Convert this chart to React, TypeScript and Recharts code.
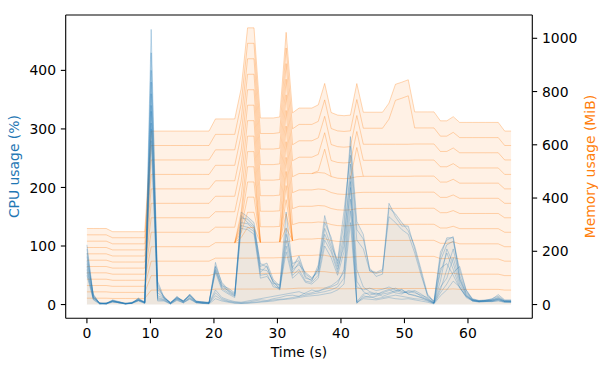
import React from 'react';
import { ComposedChart, Area, Line, XAxis, YAxis, ReferenceLine } from 'recharts';

const FONT = '"DejaVu Sans", sans-serif';

// sample times (s)
const times = [
  0, 1.01, 2.02, 3.04, 4.05, 5.06, 6.07, 7.08, 8.1, 9.11,
  10.12, 11.13, 12.14, 13.16, 14.17, 15.18, 16.19, 17.2, 18.22, 19.23,
  20.24, 21.25, 22.26, 23.28, 24.29, 25.3, 26.31, 27.32, 28.34, 29.35,
  30.36, 31.37, 32.38, 33.4, 34.41, 35.42, 36.43, 37.44, 38.46, 39.47,
  40.48, 41.49, 42.5, 43.52, 44.53, 45.54, 46.55, 47.56, 48.58, 49.59,
  50.6, 51.61, 52.62, 53.64, 54.65, 55.66, 56.67, 57.68, 58.7, 59.71,
  60.72, 61.73, 62.74, 63.76, 64.77, 65.78, 66.79,
];

// CPU usage (%) per process
const cpu1 = [102, 15, 2, 2, 7, 4, 1, 3, 9, 3, 470, 20, 12, 2, 14, 5, 18, 6, 4, 3, 72, 35, 22, 15, 158, 150, 140, 65, 71, 43, 31, 158, 63, 83, 48, 40, 68, 152, 108, 65, 120, 287, 142, 120, 57, 53, 57, 173, 150, 134, 134, 95, 55, 14, 6, 82, 114, 114, 43, 20, 8, 7, 8, 9, 17, 8, 8];
const cpu2 = [88, 12, 3, 1, 6, 5, 2, 2, 11, 4, 430, 35, 10, 4, 10, 7, 14, 4, 3, 2, 66, 38, 25, 18, 148, 146, 134, 70, 64, 38, 28, 120, 70, 75, 52, 44, 60, 140, 115, 70, 140, 270, 128, 112, 62, 48, 52, 165, 155, 140, 126, 100, 60, 18, 5, 90, 110, 116, 50, 22, 9, 6, 7, 10, 14, 7, 6];
const cpu3 = [75, 18, 1, 3, 5, 3, 2, 4, 7, 5, 400, 25, 14, 3, 12, 6, 16, 5, 5, 4, 60, 32, 28, 20, 140, 138, 128, 60, 58, 40, 26, 110, 60, 68, 55, 46, 55, 130, 100, 75, 160, 255, 110, 95, 58, 55, 60, 150, 140, 128, 120, 88, 50, 16, 4, 75, 102, 108, 58, 25, 10, 7, 6, 8, 12, 6, 7];
const cpu4 = [95, 14, 2, 2, 8, 5, 1, 3, 10, 3, 360, 40, 12, 3, 13, 6, 17, 6, 4, 3, 64, 30, 24, 16, 152, 140, 132, 55, 66, 36, 34, 130, 55, 72, 45, 42, 62, 120, 95, 60, 100, 240, 60, 30, 22, 18, 20, 24, 28, 22, 20, 24, 18, 10, 3, 40, 95, 70, 35, 15, 8, 6, 7, 8, 11, 6, 5];
const cpu5 = [60, 10, 3, 2, 6, 4, 2, 2, 8, 4, 330, 30, 13, 2, 11, 5, 15, 5, 3, 3, 58, 28, 20, 14, 135, 132, 125, 50, 52, 30, 28, 100, 50, 60, 40, 38, 50, 110, 90, 55, 110, 220, 40, 22, 16, 20, 14, 18, 22, 25, 18, 15, 12, 8, 2, 55, 88, 60, 30, 12, 6, 5, 6, 7, 9, 5, 5];
const cpu6 = [82, 16, 2, 1, 7, 3, 1, 3, 9, 3, 300, 15, 11, 3, 12, 5, 16, 5, 4, 3, 55, 25, 18, 12, 130, 128, 120, 45, 48, 34, 25, 90, 45, 55, 38, 35, 45, 100, 80, 50, 90, 200, 30, 25, 28, 24, 26, 30, 25, 20, 22, 20, 16, 12, 3, 62, 70, 50, 28, 14, 7, 6, 6, 7, 10, 6, 6];
const cpu7 = [70, 12, 2, 2, 6, 4, 2, 3, 8, 3, 380, 10, 8, 2, 9, 4, 12, 4, 3, 2, 25, 12, 8, 5, 4, 6, 8, 10, 12, 14, 16, 18, 20, 22, 18, 20, 24, 26, 30, 35, 60, 210, 5, 18, 20, 16, 22, 26, 20, 18, 24, 22, 14, 9, 3, 30, 45, 80, 40, 16, 7, 5, 6, 6, 8, 5, 5];
const cpu8 = [55, 9, 1, 1, 5, 3, 2, 2, 7, 2, 340, 12, 9, 2, 10, 4, 11, 4, 2, 2, 20, 10, 6, 4, 3, 4, 6, 8, 7, 10, 12, 15, 16, 14, 20, 25, 22, 28, 32, 40, 55, 180, 2, 15, 12, 14, 18, 20, 24, 26, 18, 16, 12, 7, 2, 25, 60, 95, 45, 18, 6, 5, 5, 6, 9, 5, 4];
const cpu9 = [65, 11, 2, 2, 5, 3, 1, 2, 7, 3, 280, 8, 7, 1, 8, 3, 10, 3, 2, 2, 15, 8, 5, 3, 2, 3, 4, 5, 6, 8, 9, 10, 12, 14, 16, 18, 20, 22, 25, 30, 45, 160, 4, 12, 14, 10, 12, 14, 16, 14, 12, 10, 9, 6, 2, 20, 35, 55, 65, 25, 8, 5, 6, 5, 7, 4, 4];
const cpu10 = [50, 8, 1, 1, 4, 3, 1, 2, 6, 2, 310, 6, 6, 1, 7, 3, 9, 3, 2, 1, 10, 6, 4, 2, 2, 2, 3, 4, 5, 6, 8, 9, 10, 12, 14, 15, 16, 18, 20, 25, 35, 140, 3, 10, 9, 8, 10, 12, 10, 9, 10, 8, 6, 4, 1, 15, 25, 40, 30, 14, 6, 4, 5, 5, 6, 4, 4];

// Memory usage (MiB) per process (stacked)
const memWorker = [23.8, 23.8, 23.8, 23.8, 22.8, 22.8, 22.8, 22.8, 22.8, 22.8, 54.3, 54.3, 54.3, 54.3, 54.3, 54.3, 54.3, 54.3, 54.3, 54.3, 58.1, 58.1, 58.1, 58.1, 58.1, 58.1, 58.1, 58.4, 58.4, 58.4, 58.7, 58.7, 60.0, 61.5, 61.5, 61.5, 62.0, 61.7, 60.1, 59.3, 59.1, 59.3, 60.0, 60.2, 60.2, 60.2, 60.2, 60.2, 60.2, 60.2, 60.2, 60.3, 60.3, 60.3, 60.3, 57.5, 57.5, 58.8, 57.0, 57.0, 57.0, 57.0, 57.0, 57.0, 57.0, 54.3, 54.3];
const memMain = [23.8, 23.8, 23.8, 23.8, 22.8, 22.8, 22.8, 22.8, 22.8, 22.8, 54.3, 54.3, 54.3, 54.3, 54.3, 54.3, 54.3, 54.3, 54.3, 54.3, 58.1, 58.1, 58.1, 58.1, 58.1, 58.1, 58.1, 58.4, 58.4, 58.4, 58.7, 58.7, 60.0, 61.5, 61.5, 61.5, 62.0, 61.7, 60.1, 59.3, 59.1, 59.3, 60.0, 60.2, 60.2, 60.2, 60.2, 94.2, 165.0, 173.0, 182.0, 60.3, 60.3, 60.3, 60.3, 57.5, 57.5, 58.8, 57.0, 57.0, 57.0, 57.0, 57.0, 57.0, 57.0, 54.3, 54.3];
const memSpawn = [0, 0, 0, 0, 0, 0, 0, 0, 0, 0, 0, 0, 0, 0, 0, 0, 0, 0, 0, 0, 0, 0, 0, 0, 19, 57, 57, 0, 0, 0, 0, 53, 0, 0, 0, 0, 0, 0, 0, 0, 0, 0, 0, 0, 0, 0, 0, 0, 0, 0, 0, 0, 0, 0, 0, 0, 0, 0, 0, 0, 0, 0, 0, 0, 0, 0, 0];
const memSpike = [0, 0, 0, 0, 0, 0, 0, 0, 0, 0, 0, 0, 0, 0, 0, 0, 0, 0, 0, 0, 0, 0, 0, 0, 0, 0, 0, 0, 0, 0, 0, 0, 0, 0, 0, 0, 6, 90, 0, 0, 0, 0, 110, 0, 0, 0, 0, 0, 0, 0, 0, 0, 0, 0, 0, 0, 0, 0, 0, 0, 0, 0, 0, 0, 0, 0, 0];

const timeTicks = [0, 10, 20, 30, 40, 50, 60];
const cpuTicks = [0, 100, 200, 300, 400];
const memTicks = [0, 200, 400, 600, 800, 1000];

const cpuSeries = [cpu1, cpu2, cpu3, cpu4, cpu5, cpu6, cpu7, cpu8, cpu9, cpu10];
// bottom -> top stacking order; transient processes only exist for short periods
const memLayers = [
  { src: memWorker, transient: false },
  { src: memWorker, transient: false },
  { src: memWorker, transient: false },
  { src: memWorker, transient: false },
  { src: memSpawn, transient: true },
  { src: memSpawn, transient: true },
  { src: memSpawn, transient: true },
  { src: memSpawn, transient: true },
  { src: memSpawn, transient: true },
  { src: memSpawn, transient: true },
  { src: memWorker, transient: false },
  { src: memWorker, transient: false },
  { src: memWorker, transient: false },
  { src: memWorker, transient: false },
  { src: memSpike, transient: true },
  { src: memWorker, transient: false },
  { src: memWorker, transient: false },
  { src: memMain, transient: false },
  { src: memWorker, transient: false },
];

const data = times.map((t, i) => {
  const row: Record<string, number | null> = { t };
  cpuSeries.forEach((s, k) => { row['c' + k] = s[i]; });
  row.cmax = Math.max(...cpuSeries.map((s) => s[i]));
  let cum = 0;
  memLayers.forEach((l, k) => {
    row['m' + k] = l.src[i];
    cum += l.src[i];
    if (l.transient) {
      const alive = l.src[i] > 0 || (i > 0 && l.src[i - 1] > 0) || (i < l.src.length - 1 && l.src[i + 1] > 0);
      row['top' + k] = alive ? cum : null;
    }
  });
  return row;
});

const PLOT_BOTTOM = 318.3;
const PLOT_LEFT = 65.7;
const PLOT_RIGHT = 532.3;
const TICK = 4.86;
const FS = 13.9;

const XTick = (p: any) => (
  <text x={p.x} y={PLOT_BOTTOM + TICK * 2 + 10.1} textAnchor="middle" fontSize={FS} fontFamily={FONT} fill="#000">
    {p.payload.value}
  </text>
);
const LTick = (p: any) => (
  <text x={PLOT_LEFT - TICK * 2} y={p.y + 5.05} textAnchor="end" fontSize={FS} fontFamily={FONT} fill="#000">
    {p.payload.value}
  </text>
);
const RTick = (p: any) => (
  <text x={PLOT_RIGHT + TICK * 2} y={p.y + 5.05} textAnchor="start" fontSize={FS} fontFamily={FONT} fill="#000">
    {p.payload.value}
  </text>
);

const axisStroke = { stroke: '#000', strokeWidth: 1.1 };
const MEM_STROKE_OPACITY = 0.3;

export default function App() {
  return (
    <div style={{ position: 'absolute', left: 0, top: 0, width: 607, height: 372, background: '#fff' }}>
      <ComposedChart
        width={607}
        height={372}
        data={data}
        margin={{ top: 15, right: 14.7, bottom: 23.7, left: 15.7 }}
      >
        <XAxis
          type="number"
          dataKey="t"
          domain={[-3.34, 70.13]}
          allowDataOverflow
          ticks={timeTicks}
          interval={0}
          height={30}
          tickSize={TICK}
          tickLine={axisStroke}
          axisLine={axisStroke}
          tick={XTick}
        />
        <YAxis
          yAxisId="cpu"
          orientation="left"
          type="number"
          domain={[-23.5, 494.6]}
          allowDataOverflow
          ticks={cpuTicks}
          interval={0}
          width={50}
          tickSize={TICK}
          tickLine={axisStroke}
          axisLine={axisStroke}
          tick={LTick}
        />
        <YAxis
          yAxisId="mem"
          orientation="right"
          type="number"
          domain={[-51.7, 1087.5]}
          allowDataOverflow
          ticks={memTicks}
          interval={0}
          width={60}
          tickSize={TICK}
          tickLine={axisStroke}
          axisLine={axisStroke}
          tick={RTick}
        />
        <ReferenceLine yAxisId="cpu" y={494.6} stroke="#000" strokeWidth={1.1} />
        <Area
          yAxisId="cpu"
          dataKey="cmax"
          type="linear"
          baseValue={0}
          stroke="none"
          fill="#1f77b4"
          fillOpacity={0.09}
          isAnimationActive={false}
          dot={false}
          activeDot={false}
        />
        {cpuSeries.map((_, k) => (
          <Line
            key={'c' + k}
            yAxisId="cpu"
            dataKey={'c' + k}
            type="linear"
            stroke="#1f77b4"
            strokeOpacity={0.34}
            strokeWidth={0.8}
            dot={false}
            activeDot={false}
            isAnimationActive={false}
          />
        ))}
        {memLayers.map((l, k) => (
          <Area
            key={'m' + k}
            yAxisId="mem"
            dataKey={'m' + k}
            stackId="mem"
            type="linear"
            stroke={l.transient ? 'none' : '#ff7f0e'}
            strokeOpacity={MEM_STROKE_OPACITY}
            strokeWidth={1}
            fill="#ff7f0e"
            fillOpacity={0.11}
            dot={false}
            activeDot={false}
            isAnimationActive={false}
          />
        ))}
        {memLayers.map((l, k) =>
          l.transient ? (
            <Line
              key={'top' + k}
              yAxisId="mem"
              dataKey={'top' + k}
              type="linear"
              stroke="#ff7f0e"
              strokeOpacity={MEM_STROKE_OPACITY}
              strokeWidth={1}
              dot={false}
              activeDot={false}
              connectNulls={false}
              isAnimationActive={false}
            />
          ) : null
        )}
      </ComposedChart>
      <svg width={607} height={372} style={{ position: 'absolute', left: 0, top: 0, pointerEvents: 'none' }}>
        <text x={299} y={356.5} textAnchor="middle" fontSize={FS} fontFamily={FONT} fill="#000">Time (s)</text>
        <text transform="translate(19,166.6) rotate(-90)" textAnchor="middle" fontSize={FS} fontFamily={FONT} fill="#1f77b4">CPU usage (%)</text>
        <text transform="translate(594.5,166.6) rotate(-90)" textAnchor="middle" fontSize={FS} fontFamily={FONT} fill="#ff7f0e">Memory usage (MiB)</text>
      </svg>
    </div>
  );
}
